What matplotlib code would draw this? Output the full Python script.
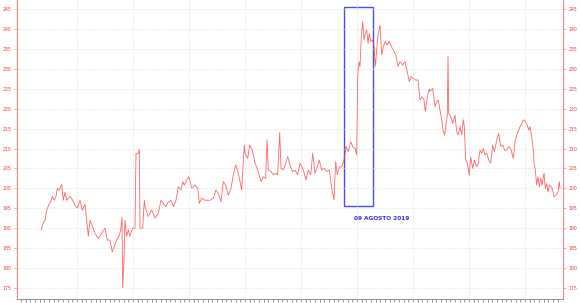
import matplotlib

matplotlib.use("Agg")
import matplotlib.pyplot as plt
from matplotlib.patches import Rectangle
from matplotlib.ticker import MultipleLocator, FixedLocator, NullFormatter

# session index (0 = first quote) and price
sessions = [
    0.3, 1.7, 4, 5.7, 8, 9.7, 11.3, 13.3, 15, 16.3, 18.3, 20.7, 22.3, 24, 25.7, 29,
    31.7, 34, 36.3, 39, 41.3, 44, 45.7, 47.3, 49, 51.7, 54, 57.3, 60.7, 64, 66.3, 69,
    71.3, 74, 75.7, 78, 79.7, 81, 81.7, 83, 84, 85.7, 87.3, 89, 91.7, 94, 95, 97.3,
    98.3, 99, 101.7, 103.3,
    104, 107.3, 110.7, 114, 117.3, 120, 122.3, 124.7, 127.3, 130, 132.3, 135, 137.3,
    140, 141.7, 143.3, 145.7, 148, 150.7, 154, 156.7, 158.3, 160.7, 164, 169, 172.3,
    175, 177.3, 180, 182.3, 184.7, 187.3, 190, 192.3, 194.7, 197.3, 200.7, 203.3,
    204, 206.7, 208.7, 211.3, 214, 216.7, 220, 222.3, 224.7, 226, 227.3, 230, 232.3,
    234.7, 236.7, 238.7, 240, 242.3, 244.7, 246.7, 249, 251.3, 254, 256.7,
    259, 262.3, 265, 267.3, 269.7, 271.7, 274, 276.3, 278.3, 280.7, 283, 285.7, 288.3,
    290, 291.3, 293, 294.7, 296.3, 298.3, 300.7, 303, 305, 307.3, 309.7, 311.7, 314,
    315.7, 316.7, 318, 319, 320.3, 321.7, 323, 324.3, 325.7, 327, 328.3, 329.7, 331.7,
    333, 334.3, 335.7, 337, 339, 340.7, 342.3, 344.3, 346.3, 348.3, 350.3, 352.3,
    354.7, 357, 359, 361.7, 364, 366.3, 368.3, 370, 372.3, 375, 377, 379, 381, 383,
    384.3, 386.3, 388.3,
    389, 391.7, 394, 395.7, 397.3, 399, 400.7, 402.3, 403.7, 405, 406.3, 407, 407.7,
    409.7, 411.7, 414, 415.7, 417.3, 419, 420.7, 422.3, 423.3, 424.7, 426.3, 428.3,
    429.7, 431.7, 433.3, 435.7, 437.3, 439, 440.7, 442.3, 444, 445.7, 447.7, 449.7,
    451.7, 453.3, 455.7, 457.7, 459.7, 461.7, 463.7, 465.7, 467.7, 469.7, 472.3, 474.3,
    476.3, 478.3, 480.3, 482.3, 484.3, 486.3, 487.7, 489, 490.3, 491.7, 493, 494.3,
    495.7, 497, 498.3, 499.7, 501, 503, 504.3, 505.7, 507, 508.3, 510.3, 511.7, 513,
    515, 517, 518.3, 519,
]
prices = [
    189.5, 191, 192, 194.5, 196, 196.6, 198, 197, 198, 200, 199.5, 201, 197, 199, 197, 198,
    197, 195.8, 195, 197, 194.5, 196, 192, 188, 192, 190.3, 188.7, 187.4, 188.7, 190, 187, 187,
    184, 186, 187, 188, 189.5, 192.8, 175, 182, 192, 188, 189.5, 188, 190, 190, 208.8, 208.8,
    209.8, 190, 190, 197,
    195.4, 192.9, 194.6, 192.5, 193.7, 197, 196.2, 195.4, 196.6, 197, 195.4, 197, 200.4,
    199.6, 201.7, 200.8, 202.1, 202.9, 200, 200.8, 200, 196.2, 197.5, 197, 197, 197.5,
    199.6, 198.7, 196.6, 201.7, 200.8, 198.3, 200, 203.4, 205.9, 203.8, 199.6, 210.9,
    208.8, 207.5, 210.9, 209.6, 206.3, 204.6, 201.7, 202.9, 202.5, 212.1, 204.6, 204.2, 203.4,
    203.8, 203.4, 214, 205, 204.6, 206.3, 208, 205.9, 204.2, 204.6, 203.4,
    206.3, 204.6, 202.1, 204.6, 203.4, 208.8, 203.8, 205.4, 207.1, 204.6, 205, 204.2, 204.6,
    201.3, 199.2, 197.1, 206.7, 203.4, 205.4, 205.4, 207.1, 210.5, 209.2, 211.7, 210.5, 210,
    208.4, 228.1, 231.8, 230.6, 238.1, 241.9, 237.3, 238.9, 239.8, 236.4, 238.9, 236.9, 237.3,
    235.6, 230.6, 234.8, 238.5, 241, 233.5, 235.6, 236.9, 236, 236.9, 235.6, 234.8,
    233.5, 230.6, 231.8, 231, 231.8, 229.3, 226.8, 228.1, 227.6, 227.2, 227.2, 222.2, 223, 222.2,
    219.3, 223, 224.9,
    224.3, 225.1, 220.5, 221.8, 222.2, 219.7, 217.2, 214.2, 213.4, 216.3, 218, 233.1, 218.8,
    218, 216.3, 218.4, 214.2, 213.4, 215.5, 213.4, 217.2, 215.5, 207.1, 206.3, 203.3,
    207.9, 205, 207.1, 205.4, 206.3, 209.6, 208.8, 210, 208.4, 208.8, 207.1, 206.3,
    210.9, 209.2, 212.1, 213.8, 210.5, 210.9, 209.6, 209.6, 210.5, 210, 207.5, 212.1,
    213.8, 215.1, 215.9, 217.2, 216.8, 215.9, 214.6, 215.5, 213.4, 211.3, 206.7, 204.6,
    200.8, 202.9, 200.4, 202.5, 200.8, 203.8, 200, 201.2, 199.1, 200.8, 200.4, 199.6, 197.9,
    198.3, 199.1, 201.7, 200,
]

y_ticks = list(range(175, 250, 5))
box_sessions = (303.3, 332.3)
box_prices = (195.6, 245.5)
event_label = "09 AGOSTO 2019"
event_pos = (340.7, 192.3)

fig = plt.figure(figsize=(5.8, 3.03), dpi=100)
ax = fig.add_axes([17 / 580, 4 / 303, 546 / 580, 299 / 303])

ax.plot(sessions, prices, color="#ff3030", lw=0.6, alpha=0.75)

ax.add_patch(Rectangle((box_sessions[0], box_prices[0]),
                       box_sessions[1] - box_sessions[0], box_prices[1] - box_prices[0],
                       fill=False, edgecolor="#4a4af0", lw=1.0))
ax.text(event_pos[0], event_pos[1], event_label, color="#3333dd", fontsize=4.2,
        fontweight="bold", ha="center", va="center")

ax.set_xlim(-24, 522)
ax.set_ylim(172.2, 247.3)

major_x = [36 + 56 * k for k in range(9)]
minor_x = [-20 + 56 / 12 * k for k in range(116)]
ax.xaxis.set_major_locator(FixedLocator(major_x))
ax.xaxis.set_minor_locator(FixedLocator(minor_x))
ax.xaxis.set_major_formatter(NullFormatter())
ax.tick_params(axis="x", which="both", length=2, width=0.5, color="#777777")

ax.yaxis.set_major_locator(FixedLocator(y_ticks))
ax.yaxis.set_minor_locator(MultipleLocator(1))
ax.tick_params(axis="y", which="major", labelsize=3.3, labelcolor="#ff3030",
               colors="#ff8080", length=2, width=0.5, pad=2,
               left=True, right=True, labelleft=True, labelright=True)
ax.tick_params(axis="y", which="minor", length=1, width=0.4, color="#ff9090",
               left=True, right=True)
for t in ax.yaxis.get_major_ticks():
    t.label1.set_color("#ff3030")
    t.label2.set_color("#ff3030")
    t.label2.set_fontsize(3.3)

ax.grid(True, which="major", color="#d8d8d8", linestyle=":", lw=0.6)

ax.spines["top"].set_visible(False)
ax.spines["left"].set_color("#ff8080")
ax.spines["right"].set_color("#ff8080")
ax.spines["bottom"].set_color("#999999")
for s in ax.spines.values():
    s.set_linewidth(0.8)

fig.savefig("out.png", dpi=100)
